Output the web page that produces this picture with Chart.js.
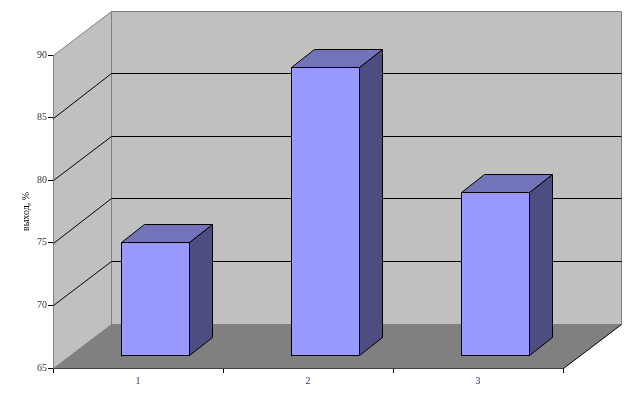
<!DOCTYPE html>
<html>
<head>
<meta charset="utf-8">
<style>
  html, body { margin: 0; padding: 0; background: #fff; }
  #wrap { width: 636px; height: 400px; }
</style>
<script src="https://cdn.jsdelivr.net/npm/chart.js@4"></script>
</head>
<body>
<div id="wrap"><canvas id="myChart" width="636" height="400"></canvas></div>
<script>
const categories = ['1', '2', '3'];
const yieldValues = [74, 88, 78];
const yTicks = [65, 70, 75, 80, 85, 90];
const yTitle = 'выход, %';

// depth of the fake 3D box, and where the bars stand inside it
const boxDepth = { x: 58, y: -44 };
const gridDepthY = -44.6;
const barShift = { x: 17.5, y: -13 };
const barDepth = { x: 23, y: -18 };

function face(ctx, points, fill, stroke) {
  ctx.beginPath();
  ctx.moveTo(points[0][0], points[0][1]);
  points.slice(1).forEach(p => ctx.lineTo(p[0], p[1]));
  ctx.closePath();
  ctx.fillStyle = fill;
  ctx.fill();
  if (stroke) {
    ctx.strokeStyle = stroke;
    ctx.lineWidth = 1;
    ctx.stroke();
  }
}

const box3d = {
  id: 'box3d',
  beforeDatasetsDraw(chart) {
    const ctx = chart.ctx;
    const a = chart.chartArea;
    const y = chart.scales.y;
    const dx = boxDepth.x, dy = boxDepth.y;
    const L = a.left + 0.5, R = a.right + 0.5, T = a.top + 0.5, B = a.bottom + 0.5;

    ctx.save();
    // walls and floor
    face(ctx, [[L + dx, T + dy], [R + dx, T + dy], [R + dx, B + dy], [L + dx, B + dy]], '#c0c0c0', '#808080');
    face(ctx, [[L, T], [L + dx, T + dy], [L + dx, B + dy], [L, B]], '#c0c0c0', '#808080');
    face(ctx, [[L, B], [L + dx, B + dy], [R + dx, B + dy], [R, B]], '#808080', null);

    // grid lines on side wall and back wall
    ctx.strokeStyle = '#000';
    ctx.lineWidth = 1;
    yTicks.slice(1, -1).forEach(v => {
      const raw = y.getPixelForValue(v);
      const py = Math.round(raw) + 0.5;
      const backY = Math.round(raw + gridDepthY) + 0.5;
      ctx.beginPath();
      ctx.moveTo(L, py);
      ctx.lineTo(L + dx, backY);
      ctx.lineTo(R + dx, backY);
      ctx.stroke();
    });

    // floor edge
    ctx.beginPath();
    ctx.moveTo(R, B);
    ctx.lineTo(R + dx, B + dy);
    ctx.stroke();
    ctx.restore();

    // side and top of the bars, then shift so the library's bars land on the floor
    ctx.save();
    ctx.translate(barShift.x, barShift.y);
    chart.getDatasetMeta(0).data.forEach(bar => {
      // same pixels as the 1px border the library draws inside the bar rect
      const left = bar.x - bar.width / 2 + 0.5;
      const right = bar.x + bar.width / 2 - 0.5;
      const top = Math.round(bar.y) + 0.5;
      const bottom = Math.round(bar.base) - 0.5;
      const ox = barDepth.x, oy = barDepth.y;
      face(ctx, [[right, top], [right + ox, top + oy], [right + ox, bottom + oy], [right, bottom]], '#4d4d80', '#000');
      face(ctx, [[left, top], [left + ox, top + oy], [right + ox, top + oy], [right, top]], '#7373b9', '#000');
    });
  },
  afterDatasetsDraw(chart) {
    chart.ctx.restore();
  }
};

new Chart(document.getElementById('myChart'), {
  type: 'bar',
  data: {
    labels: categories,
    datasets: [{
      data: yieldValues,
      base: 64.92,
      clip: false,
      backgroundColor: '#9999ff',
      borderColor: '#000',
      borderWidth: 1,
      borderSkipped: false,
      barPercentage: 69 / 170,
      categoryPercentage: 1
    }]
  },
  plugins: [box3d],
  options: {
    responsive: false,
    animation: false,
    layout: { padding: { left: 20, top: 55, right: 73, bottom: 0 } },
    plugins: { legend: { display: false }, tooltip: { enabled: false } },
    scales: {
      x: {
        afterFit: s => { s.height = 32; s.paddingLeft = 0; s.paddingRight = 0; },
        border: { color: '#000', width: 1 },
        grid: { drawOnChartArea: false, color: '#000', tickLength: 5, offset: true },
        ticks: { color: '#333366', font: { family: 'Liberation Serif', size: 10 }, padding: 2, maxRotation: 0 }
      },
      y: {
        min: 65,
        max: 90,
        afterFit: s => { s.width = 33; s.paddingTop = 0; s.paddingBottom = 0; },
        afterBuildTicks: s => { s.ticks = yTicks.map(v => ({ value: v })); },
        border: { color: '#000', width: 1 },
        grid: { drawOnChartArea: false, color: '#000', tickLength: 5 },
        ticks: { color: '#333333', font: { family: 'Liberation Serif', size: 10 }, padding: 1 },
        title: { display: true, text: yTitle, color: '#000', font: { family: 'Liberation Serif', size: 10 }, padding: 0 }
      }
    }
  }
});
</script>
</body>
</html>
